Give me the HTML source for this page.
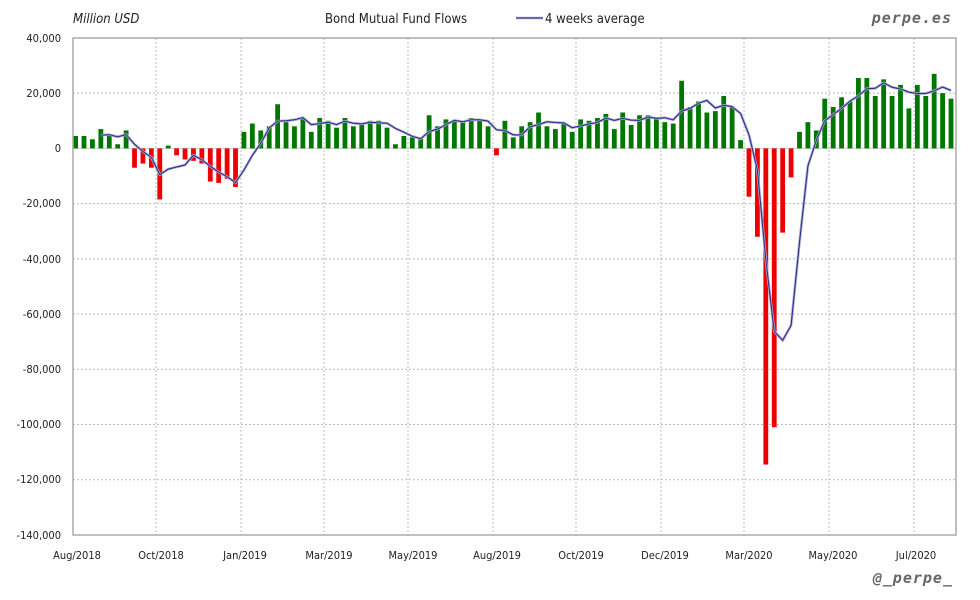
<!DOCTYPE html>
<html><head><meta charset="utf-8"><style>
body{margin:0;background:#fff;}
svg{display:block;font-family:"DejaVu Sans Condensed","Liberation Sans Narrow","Liberation Sans",sans-serif;}
</style></head><body>
<svg id="s" width="980" height="600" xmlns="http://www.w3.org/2000/svg">
<rect width="980" height="600" fill="#fff"/>
<g id="grid"></g>
<g id="bars"></g>
<g id="line"></g>
<rect x="73" y="38" width="883" height="497" fill="none" stroke="#aaa" stroke-width="1.5"/>
<g font-size="11" fill="#222" text-anchor="end">
<text x="61" y="42">40,000</text>
<text x="61" y="97">20,000</text>
<text x="61" y="152">0</text>
<text x="61" y="207">-20,000</text>
<text x="61" y="263">-40,000</text>
<text x="61" y="318">-60,000</text>
<text x="61" y="373">-80,000</text>
<text x="61" y="428">-100,000</text>
<text x="61" y="483">-120,000</text>
<text x="61" y="539">-140,000</text>
</g>
<g font-size="11" fill="#222" text-anchor="middle">
<text x="77" y="559">Aug/2018</text>
<text x="161" y="559">Oct/2018</text>
<text x="245" y="559">Jan/2019</text>
<text x="329" y="559">Mar/2019</text>
<text x="413" y="559">May/2019</text>
<text x="497" y="559">Aug/2019</text>
<text x="581" y="559">Oct/2019</text>
<text x="665" y="559">Dec/2019</text>
<text x="749" y="559">Mar/2020</text>
<text x="833" y="559">May/2020</text>
<text x="916" y="559">Jul/2020</text>
</g>
<text x="73" y="23" font-size="13" font-style="italic" fill="#222">Million USD</text>
<text x="325" y="23" font-size="13" fill="#222">Bond Mutual Fund Flows</text>
<line x1="516" y1="18" x2="543" y2="18" stroke="#a8a8d8" stroke-width="2.6"/>
<line x1="516" y1="18" x2="543" y2="18" stroke="#2a2a80" stroke-width="1"/>
<text x="545" y="23" font-size="13" fill="#222">4 weeks average</text>
<text x="952" y="23" font-size="15" font-weight="bold" font-style="italic" fill="#666" text-anchor="end" font-family="'DejaVu Sans Mono',monospace" letter-spacing="1">perpe.es</text>
<text x="953" y="583" font-size="15" font-weight="bold" font-style="italic" fill="#666" text-anchor="end" font-family="'DejaVu Sans Mono',monospace" letter-spacing="1">@_perpe_</text>
</svg>
<script>
var d=[4.5,4.5,3.3,7,5,1.5,6.5,-7,-5.5,-7,-18.5,1,-2.5,-4,-4.5,-5.5,-12,-12.5,-11,-14,
6,9,6.5,8,16,9.5,8,11,6,11,10,7.5,11,8,9,10,10,7.5,1.5,4.5,4,4,12,8,10.5,10,10,11,10.5,8,-2.5,
10,4,8,9.5,13,8,7,9,6,10.5,10,11,12.5,7,13,8.5,12,12,11,9.5,9,24.5,15,17,13,13.5,19,15,3,-17.5,
-32,-114.5,-101,-30.5,-10.5,6,9.5,6.5,18,15,18.5,17,25.5,25.5,19,25,19,23,14.5,23,19,27,20,18];
var NS="http://www.w3.org/2000/svg";
function el(t,a,p){var e=document.createElementNS(NS,t);for(var k in a)e.setAttribute(k,a[k]);document.getElementById(p).appendChild(e);return e;}
function Y(v){return 148.4-v*2.761;}
for(var v=20;v>=-120;v-=20){if(v==0)continue;el('line',{x1:73,x2:956,y1:Y(v),y2:Y(v),stroke:'#bbb','stroke-dasharray':'2,2','stroke-width':1},'grid');}
[156,241,324,408,493,576,661,744,829,914].forEach(function(x){el('line',{x1:x,x2:x,y1:38,y2:535,stroke:'#bbb','stroke-dasharray':'2,2','stroke-width':1},'grid');});
el('line',{x1:73,x2:956,y1:Y(0),y2:Y(0),stroke:'#ccc','stroke-width':1},'grid');
var sp=(951-75.6)/(d.length-1);
function X(i){return 75.6+sp*i;}
d.forEach(function(v,i){var y0=Y(0),y1=Y(v);el('rect',{x:X(i)-2.4,width:4.8,y:Math.min(y0,y1),height:Math.abs(y1-y0),fill:v>=0?'#007700':'#ee0000'},'bars');});
var pts=[];for(var i=3;i<d.length;i++){var m=(d[i]+d[i-1]+d[i-2]+d[i-3])/4;pts.push(X(i).toFixed(1)+','+Y(m).toFixed(1));}
el('polyline',{points:pts.join(' '),fill:'none',stroke:'#a8a8d8','stroke-width':2.6},'line');
el('polyline',{points:pts.join(' '),fill:'none',stroke:'#2a2a80','stroke-width':1},'line');
</script>
</body></html>
